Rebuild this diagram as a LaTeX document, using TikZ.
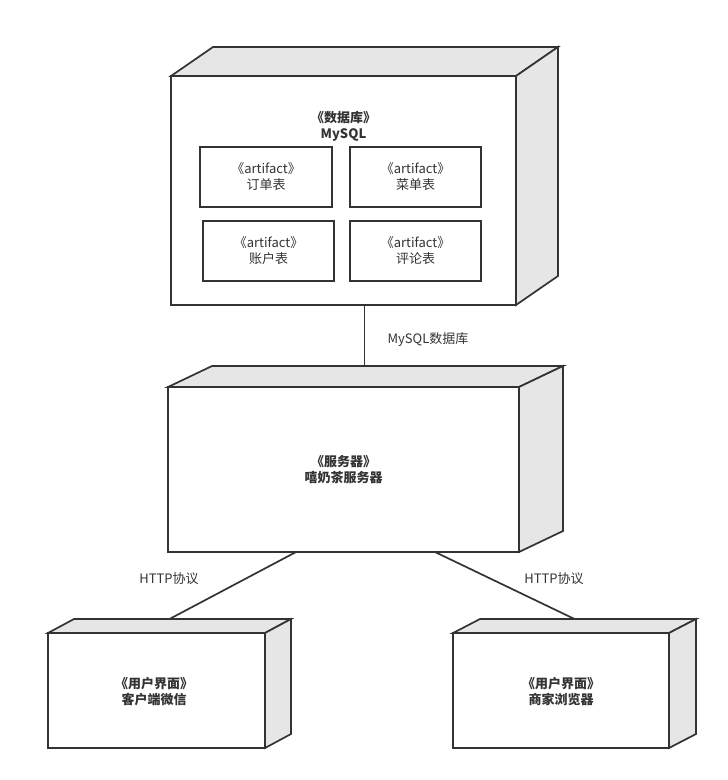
\documentclass[tikz,border=0pt]{standalone}
\usepackage{fontspec}
\setmainfont{Noto Sans CJK SC}
\usetikzlibrary{calc}
\definecolor{edge}{HTML}{333333}
\definecolor{side}{HTML}{E6E6E6}
\newcommand\nodefaces[3]{%
  % #1 node name, #2 depth dx, #3 depth dy (down positive)
  \draw[faceline, fill=side]
    ($(#1.north west)+(0,#3)$) -- ($(#1.north west)+(#2,0)$) -- (#1.north east)
    -- ($(#1.north east)+(-#2,#3)$) -- cycle;
  \draw[faceline, fill=side]
    ($(#1.north east)+(-#2,#3)$) -- (#1.north east) -- ($(#1.south east)+(0,-#3)$)
    -- ($(#1.south east)+(-#2,0)$) -- cycle;
  \draw[faceline, fill=white]
    (#1.south west) rectangle ($(#1.north east)+(-#2,#3)$);
}
\begin{document}
\begin{tikzpicture}[x=1pt,y=-1pt,
  font=\fontsize{13}{16}\selectfont,
  faceline/.style={draw=edge, line width=1.7pt, line join=miter},
  fullbox/.style={draw=none, inner sep=0pt, outer sep=0pt, rectangle},
  artbox/.style={draw=edge, line width=1.7pt, fill=white, inner sep=0pt,
    minimum height=60pt, align=center, text=edge},
  title/.style={align=center, font=\fontsize{13}{16}\selectfont\bfseries, text=edge},
  link/.style={draw=edge, line width=1.7pt},
  lbl/.style={text=edge, inner sep=0pt}
]
\useasboundingbox (0,0) rectangle (728,780);

% database
\node[fullbox, minimum width=387pt, minimum height=258pt] (db) at (364.5,176) {};
\nodefaces{db}{42}{29}
\node[title] (dbt) at (343.5,126.5) {《数据库》\\MySQL};
\node[artbox, minimum width=132pt] (a1) at (266,177) {《artifact》\\订单表};
\node[artbox, minimum width=131pt] (a2) at (415.5,177) {《artifact》\\菜单表};
\node[artbox, minimum width=131pt] (a3) at (268.5,251) {《artifact》\\账户表};
\node[artbox, minimum width=131pt] (a4) at (415.5,251) {《artifact》\\评论表};

% server
\node[fullbox, minimum width=395pt, minimum height=186pt] (srv) at (365.5,459) {};
\nodefaces{srv}{44}{21}
\node[title] (srvt) at (343.5,470) {《服务器》\\嘻奶茶服务器};

% clients
\node[fullbox, minimum width=243pt, minimum height=129pt] (cl) at (169.5,683.5) {};
\nodefaces{cl}{26}{14}
\node[title] (clt) at (154,691.5) {《用户界面》\\客户端微信};

\node[fullbox, minimum width=243pt, minimum height=129pt] (cr) at (574.5,683.5) {};
\nodefaces{cr}{27}{14}
\node[title] (crt) at (561,691.5) {《用户界面》\\商家浏览器};

% connectors
\draw[link] (db.south) -- (db.south |- srv.north);
\draw[link] ($(srv.south)+(-69.5,0)$) -- (cl.north);
\draw[link] ($(srv.south)+(69.5,0)$) -- (cr.north);

% labels
\node[lbl] (l1) at (428,340) {MySQL数据库};
\node[lbl] (l2) at (169,579) {HTTP协议};
\node[lbl] (l3) at (554,579) {HTTP协议};
\end{tikzpicture}
\end{document}
